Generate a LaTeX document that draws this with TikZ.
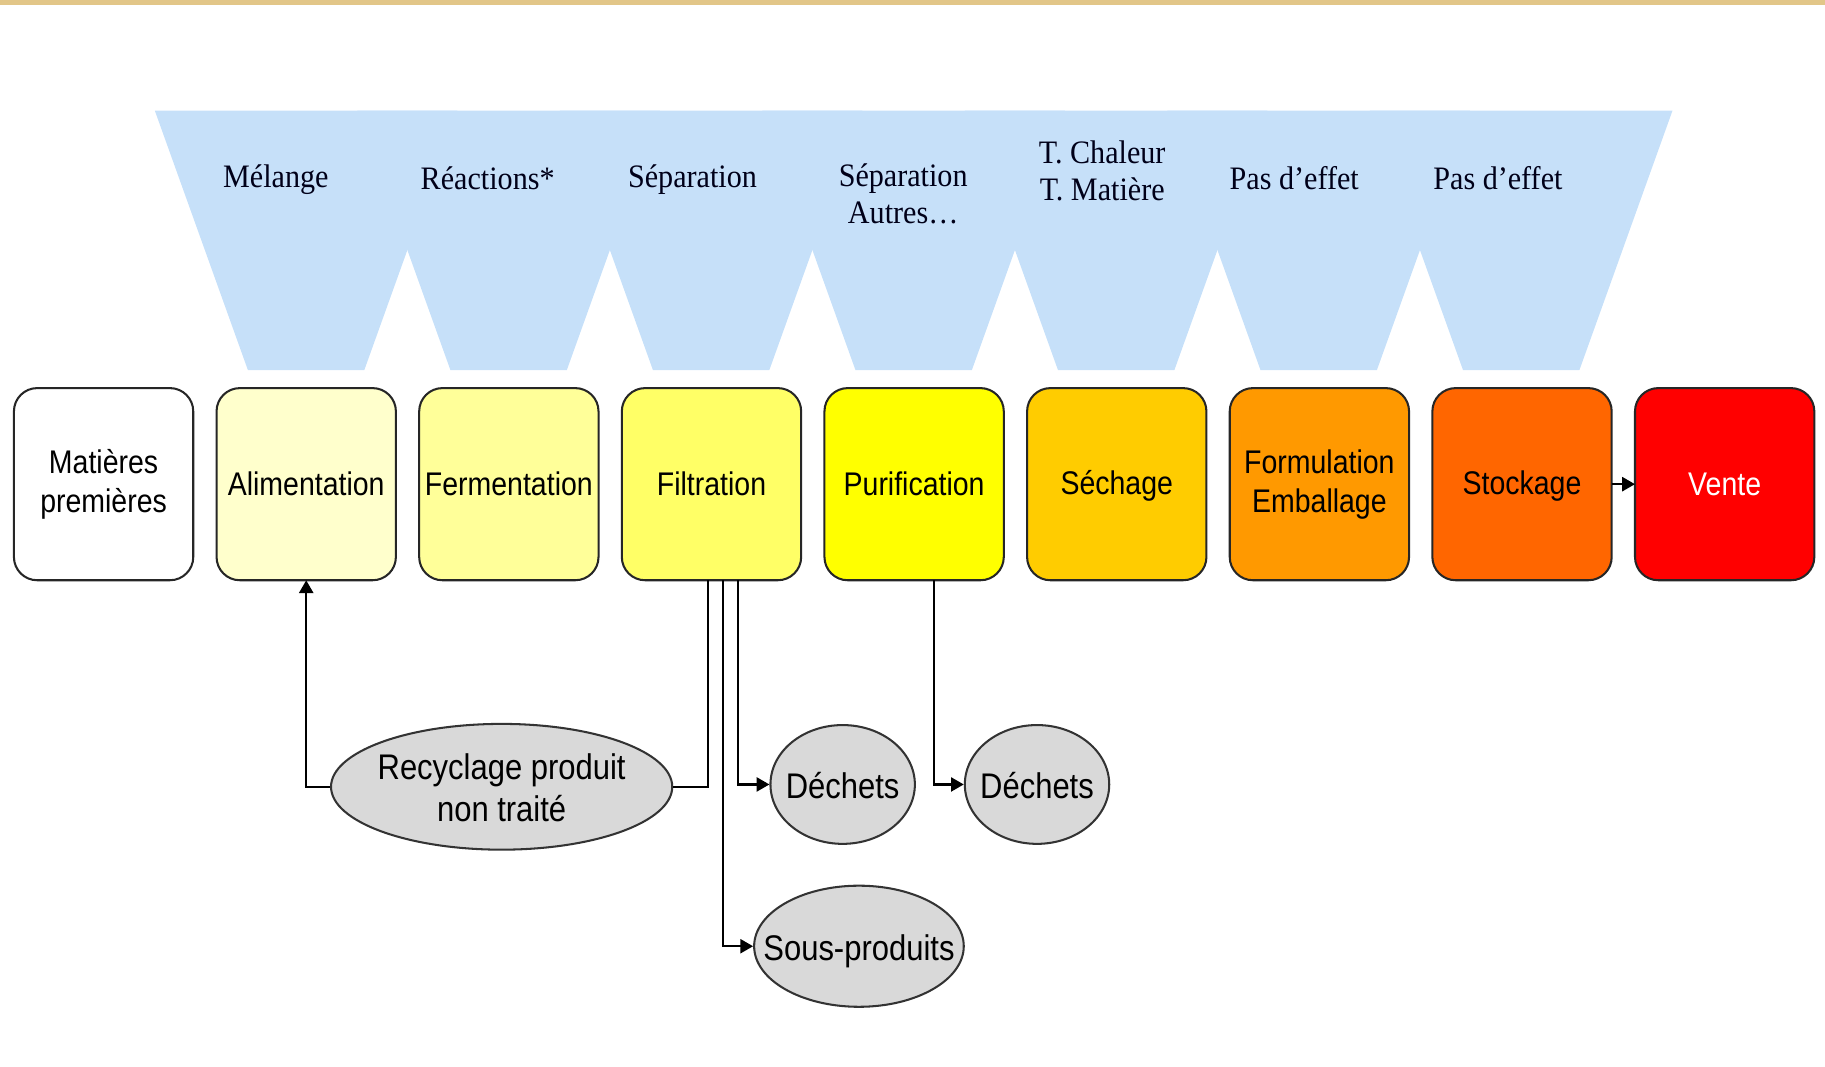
\documentclass[tikz,border=0pt]{standalone}
\usepackage{fontspec}
\setmainfont{Liberation Sans}[FakeStretch=0.87]
\newfontfamily\labfont{Liberation Serif}[FakeStretch=0.92]
\usetikzlibrary{arrows.meta,calc,positioning,shapes.geometric}
\definecolor{BandGold}{RGB}{226,198,136}
\definecolor{FunnelBlue}{RGB}{198,224,249}
\definecolor{StepA}{RGB}{255,255,204}
\definecolor{StepB}{RGB}{255,255,153}
\definecolor{StepC}{RGB}{255,255,102}
\definecolor{StepD}{RGB}{255,255,0}
\definecolor{StepE}{RGB}{255,204,0}
\definecolor{StepF}{RGB}{255,153,0}
\definecolor{StepG}{RGB}{255,102,0}
\definecolor{StepH}{RGB}{255,0,0}
\definecolor{OutGray}{RGB}{217,217,217}
\newcommand\outtext[1]{\makebox[0pt]{\raisebox{-3.6pt}[0pt][0pt]{\begin{tabular}{@{}c@{}}#1\end{tabular}}}}

\begin{document}
\begin{tikzpicture}[x=.01cm,y=-.01cm,
  stepbox/.style={draw=black!85,line width=.5pt,outer sep=0pt,rounded corners=.2cm,minimum width=1.54cm,minimum height=1.65cm,inner xsep=.5pt,align=center,font=\fontsize{8}{9.5}\selectfont,execute at begin node={\rule{0pt}{6.6pt}},execute at end node={\rule[-1.2pt]{0pt}{1.2pt}}},
  outbox/.style={ellipse,draw=black!80,line width=.5pt,fill=OutGray,inner sep=0pt,font=\fontsize{8.7}{9.8}\selectfont\renewcommand\arraystretch{1.05}},
  oplab/.style={align=center,text=black!90!blue,font=\labfont\fontsize{8}{9}\selectfont,execute at begin node={\rule{0pt}{6.2pt}},execute at end node={\rule[-.8pt]{0pt}{.8pt}}},
  flow/.style={line width=.6pt},
  >={Triangle[length=1.1mm,width=1.2mm]}]
\useasboundingbox (0,0) rectangle (1568,916);
\fill[BandGold] (0,0) rectangle (1568,4);
% funnel of unit operations
\foreach \cx in {263,437,...,1307}
  \fill[FunnelBlue] (\cx-130,95)--(\cx+130,95)--(\cx+50,318)--(\cx-50,318)--cycle;
\node[oplab] (mel) at (237,153) {Mélange};
\node[oplab] (rea) at (419,153) {Réactions*};
\node[oplab] (sep) at (595,153) {Séparation};
\node[oplab] (sepb) at (776,168) {Séparation\\Autres\ldots};
\node[oplab] (tch) at (947,148) {T. Chaleur\\T. Matière};
\node[oplab] (pas) at (1112,153) {Pas d’effet};
\node[oplab] (pasb) at (1287,153) {Pas d’effet};
% process steps
\node[stepbox,fill=white] (mat) at (89,416) {Matières\\premières};
\node[stepbox,fill=StepA,right=.2cm of mat] (alim) {Alimentation};
\node[stepbox,fill=StepB,right=.2cm of alim] (ferm) {Fermentation};
\node[stepbox,fill=StepC,right=.2cm of ferm] (filt) {Filtration};
\node[stepbox,fill=StepD,right=.2cm of filt] (puri) {Purification};
\node[stepbox,fill=StepE,right=.2cm of puri] (sech) {Séchage};
\node[stepbox,fill=StepF,right=.2cm of sech] (form) {Formulation\\Emballage};
\node[stepbox,fill=StepG,right=.2cm of form] (stock) {Stockage};
\node[stepbox,fill=StepH,text=white,right=.2cm of stock] (vente) {Vente};
\draw[flow,->] (stock)--(vente);
% outputs
\node[outbox,minimum width=2.93cm,minimum height=1.08cm] (recy) at (431,676) {\outtext{Recyclage produit\\non traité}};
\node[outbox,minimum width=1.24cm,minimum height=1.02cm] (dech) at (724,674) {\outtext{Déchets}};
\node[outbox,minimum width=1.8cm,minimum height=1.04cm] (sous) at (738,813) {\outtext{Sous-produits}};
\node[outbox,minimum width=1.24cm,minimum height=1.02cm] (dechb) at (891,674) {\outtext{Déchets}};
\draw[flow] ($(filt.south)+(-3,0)$) |- (recy.east);
\draw[flow,->] (recy.west) -| (alim.south);
\draw[flow,->] ($(filt.south)+(23,0)$) |- (dech.west);
\draw[flow,->] ($(filt.south)+(10,0)$) |- (sous.west);
\draw[flow,->] ($(puri.south)+(17,0)$) |- (dechb.west);
\end{tikzpicture}
\end{document}
